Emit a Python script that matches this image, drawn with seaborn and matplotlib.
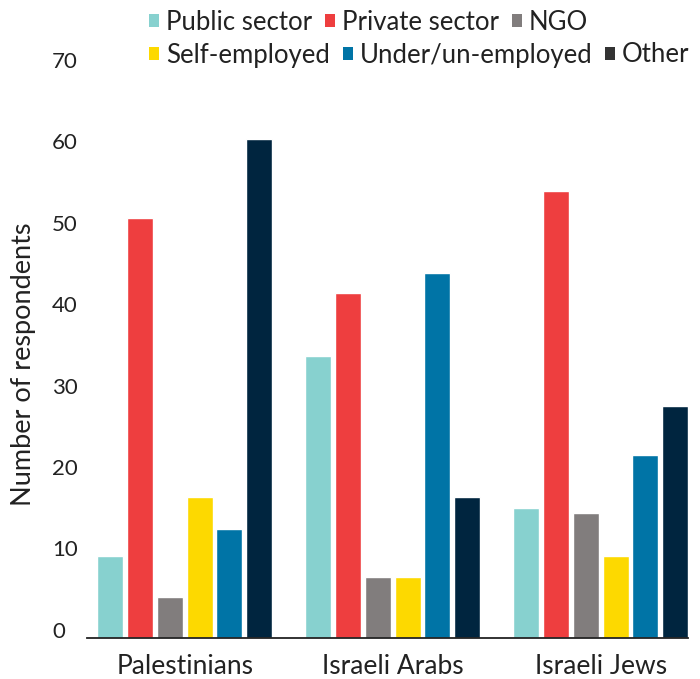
import numpy as np
import pandas as pd
import matplotlib
matplotlib.use("Agg")
import matplotlib.pyplot as plt
import matplotlib.transforms as mtransforms
from matplotlib.patches import Patch
import seaborn as sns

groups = ["Palestinians", "Israeli Arabs", "Israeli Jews"]
sectors = ["Public sector", "Private sector", "NGO", "Self-employed",
           "Under/un-employed", "Other"]
public = [10.0, 34.6, 15.9]
private = [51.6, 42.3, 54.9]
ngo = [5.0, 7.4, 15.3]
self_emp = [17.3, 7.4, 10.1]
under = [13.4, 44.8, 22.4]
other = [61.3, 17.3, 28.5]
yticks = [0, 10, 20, 30, 40, 50, 60, 70]
colors = ["#87D1CF", "#EE3E3F", "#817D7D", "#FDD900", "#0074A6", "#00253F"]
legend_colors = ["#87D1CF", "#EE3E3F", "#817D7D", "#FDD900", "#0074A6", "#333333"]

series = [public, private, ngo, self_emp, under, other]
rows = []
for s, vals in zip(sectors, series):
    for g, v in zip(groups, vals):
        rows.append({"Group": g, "Sector": s, "Value": v})
df = pd.DataFrame(rows)

sns.set_theme(style="white")
plt.rcParams['font.family'] = ['Lato', 'DejaVu Sans']
txt = "#222222"

fig = plt.figure(figsize=(7, 6.79), dpi=100)
ax = fig.add_axes([87 / 700, 41.3 / 679, 601 / 700, 569.7 / 679])
sns.barplot(data=df, x="Group", y="Value", hue="Sector", hue_order=sectors,
            order=groups, palette=colors, width=0.86, gap=0.13, saturation=1,
            errorbar=None, legend=False, ax=ax)

ax.set_xlim(-0.47, 2.42)
ax.set_ylim(0, 70)
ax.set_yticks(yticks)
ax.set_yticklabels([str(t) for t in yticks])
ax.set_xlabel("")
ax.set_ylabel("Number of respondents", fontsize=19.5, color=txt)
ax.yaxis.set_label_coords(-0.085, 0.48)
ax.tick_params(axis='y', length=0, pad=25.2, labelsize=16, labelcolor=txt)
ax.tick_params(axis='x', length=0, pad=12, labelsize=19, labelcolor=txt)
off = mtransforms.ScaledTranslation(0, 8 / 100, fig.dpi_scale_trans)
for tick in ax.yaxis.get_major_ticks():
    tick.label1.set_horizontalalignment('left')
    tick.label1.set_transform(tick.label1.get_transform() + off)

for sp in ["left", "top", "right"]:
    ax.spines[sp].set_visible(False)
ax.spines["bottom"].set_color(txt)
ax.spines["bottom"].set_linewidth(1.3)

handles = [Patch(facecolor=c, edgecolor='none') for c in legend_colors]
common = dict(frameon=False, fontsize=18.5, handlelength=0.39, handleheight=0.39,
              handletextpad=0.27, columnspacing=0.5, borderpad=0, borderaxespad=0,
              loc='center left', labelcolor=txt)
leg1 = fig.legend(handles[:3], sectors[:3], ncol=3,
                  bbox_to_anchor=(149 / 700, 1 - 22 / 679), **common)
leg2 = fig.legend(handles[3:], sectors[3:], ncol=3,
                  bbox_to_anchor=(149 / 700, 1 - 55 / 679), **common)

fig.savefig("out.png", dpi=100)
